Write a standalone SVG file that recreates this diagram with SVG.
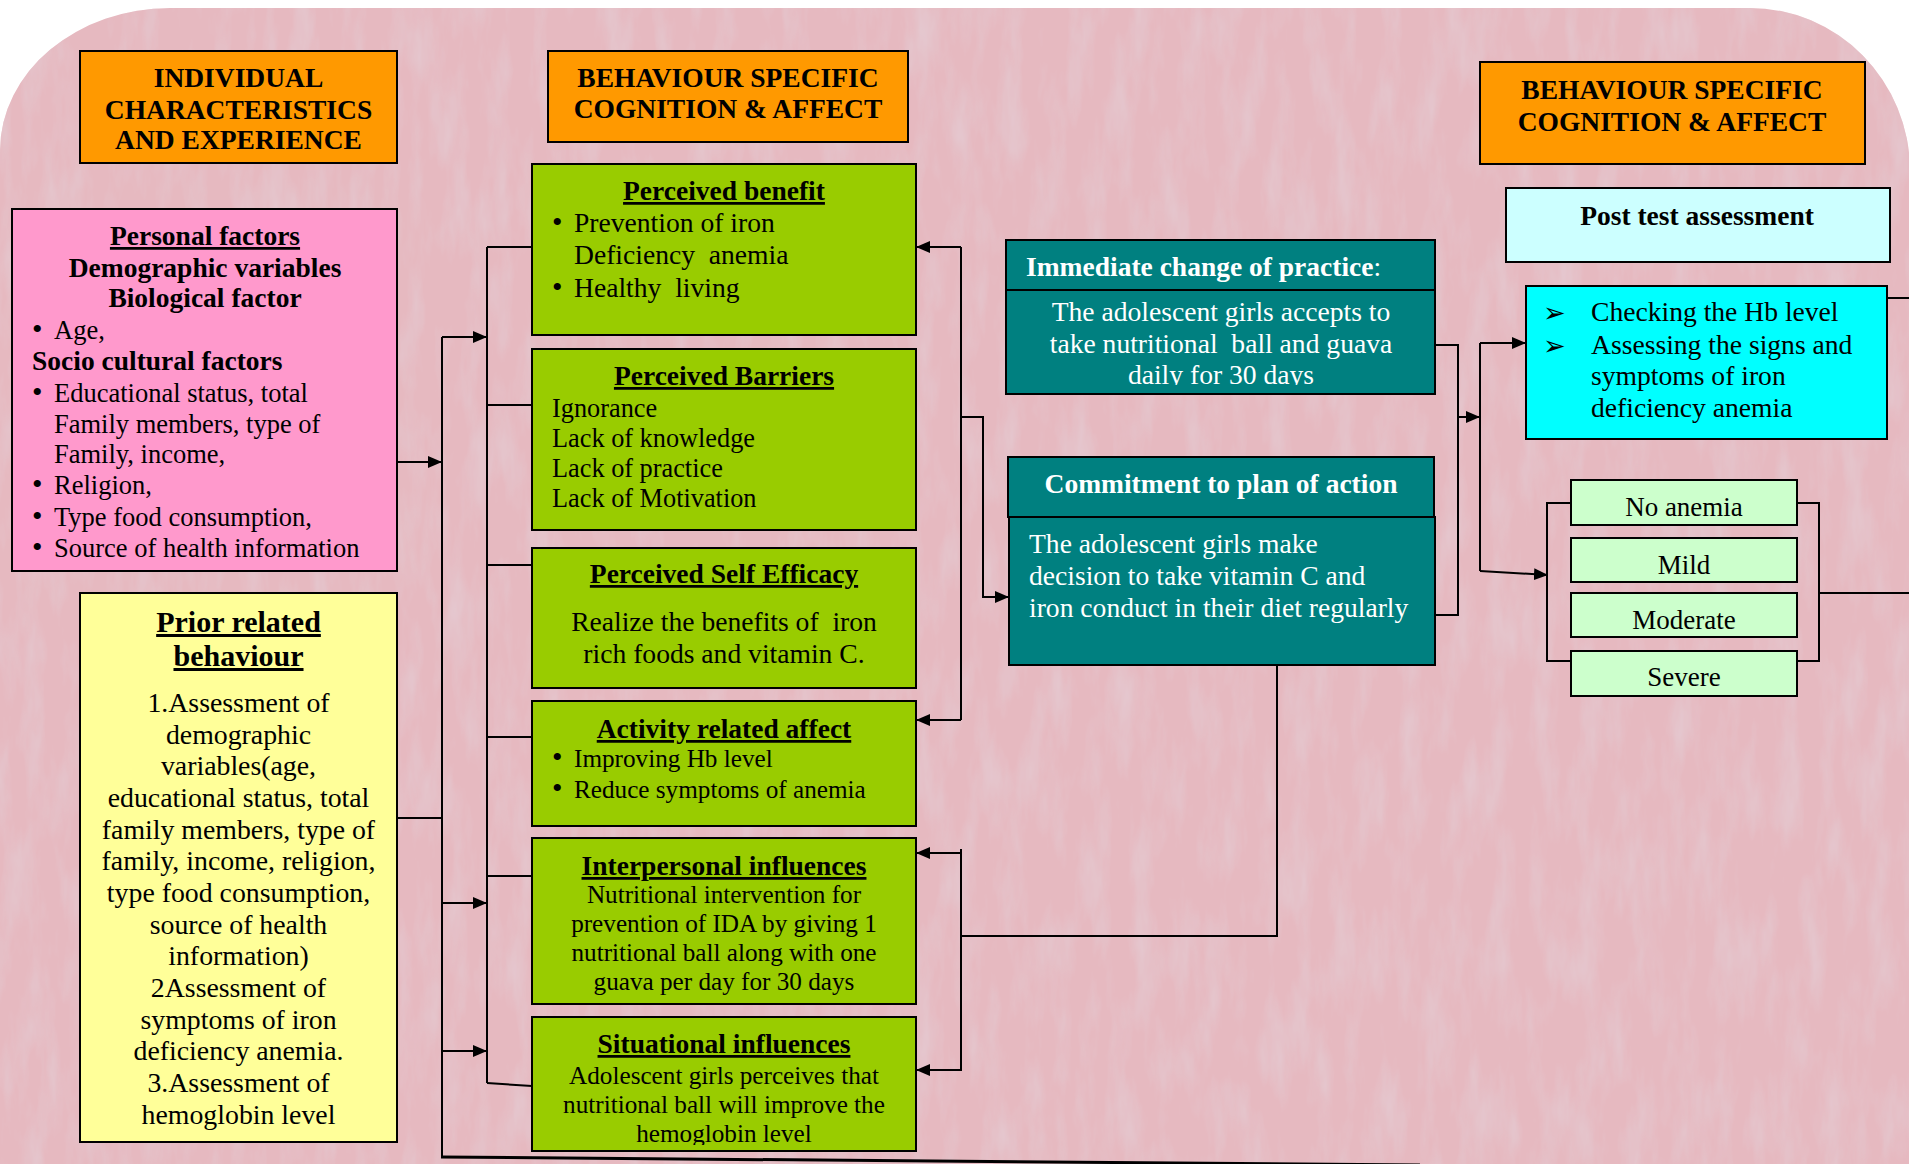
<svg xmlns="http://www.w3.org/2000/svg" width="1909" height="1164" viewBox="0 0 1909 1164">
<style>
text{font-family:"Liberation Serif","Times New Roman",serif;font-size:27px;fill:#000}
.b{font-weight:bold;font-size:27.5px}
.u{text-decoration:underline}
.c{text-anchor:middle}
.w{fill:#fff}
.pre{white-space:pre}
.box{stroke:#000;stroke-width:2}
.ln{fill:none;stroke:#000;stroke-width:2}
.arr{fill:none;stroke:#000;stroke-width:2;marker-end:url(#ah)}
.f265 text{font-size:26.5px}
.f276 text{font-size:27.6px}
.f263 text{font-size:26.3px}
.f252 text{font-size:25.2px}
.f265 text.b,.f276 text.b,.f263 text.b,.f252 text.b{font-size:27.5px}
.ar{font-family:"DejaVu Sans",sans-serif;font-size:27px}
</style>
<defs>
<marker id="ah" viewBox="0 0 14 12" refX="14" refY="6" markerWidth="14" markerHeight="12" markerUnits="userSpaceOnUse" orient="auto"><path d="M0,0 L14,6 L0,12 z" fill="#000"/></marker>
<filter id="tex" x="0" y="0" width="1" height="1">
<feTurbulence type="fractalNoise" baseFrequency="0.045 0.012" numOctaves="4" seed="7" result="n"/>
<feColorMatrix in="n" type="matrix" values="0 0 0 0 0.78  0 0 0 0 0.58  0 0 0 0 0.63  0 0 0 1.8 -0.75" result="c"/>
<feComposite in="c" in2="SourceAlpha" operator="in"/>
</filter>
<clipPath id="clipSit"><rect x="532" y="1017" width="384" height="128"/></clipPath>
<clipPath id="clipT1"><rect x="1006" y="290" width="429" height="95"/></clipPath>
</defs>

<g id="background">
<rect width="1909" height="1164" fill="#fff"/>
<path d="M0,150 A170,143 0 0 1 170,8 L1750,8 A160,163 0 0 1 1910,170 L1910,1164 L0,1164 Z" fill="#e6b9c0"/>
<path d="M0,150 A170,143 0 0 1 170,8 L1750,8 A160,163 0 0 1 1910,170 L1910,1164 L0,1164 Z" fill="#e6b9c0" filter="url(#tex)"/>
</g>

<g id="connectors">
<path class="arr" d="M397,462 H442"/>
<path class="ln" d="M397,818 H442"/>
<path class="ln" d="M442,337 V1157"/>
<path d="M441,1157 L1420,1165" fill="none" stroke="#000" stroke-width="3"/>
<path class="arr" d="M442,337 H487"/>
<path class="arr" d="M442,903 H487"/>
<path class="arr" d="M442,1051 H487"/>
<path class="ln" d="M487,247 V1083"/>
<path class="ln" d="M487,247 H532 M487,405 H532 M487,565 H532 M487,737 H532 M487,876 H532 M487,1083 L532,1086"/>
<path class="ln" d="M961,247 V720"/>
<path class="arr" d="M961,247 H916"/>
<path class="arr" d="M961,720 H916"/>
<path class="arr" d="M961,417 H983 V597 H1009"/>
<path class="ln" d="M961,849 V1071"/>
<path class="arr" d="M961,853 H916"/>
<path class="arr" d="M961,1070 H916"/>
<path class="ln" d="M961,936 H1277 V665"/>
<path class="ln" d="M1435,345 H1458 V615 H1435"/>
<path class="arr" d="M1458,417 H1480"/>
<path class="ln" d="M1480,343 V571"/>
<path class="arr" d="M1480,343 H1526"/>
<path class="arr" d="M1480,571 L1548,575"/>
<path class="ln" d="M1571,503 H1547 V661 H1571"/>
<path class="ln" d="M1797,503 H1819 V661 H1797"/>
<path class="ln" d="M1819,593 H1909"/>
<path class="ln" d="M1887,298 H1909"/>
</g>

<g id="hdr-individual">
<rect class="box" x="80" y="51" width="317" height="112" fill="#ff9900"/>
<text class="b c" x="238.5" y="87">INDIVIDUAL</text>
<text class="b c" x="238.5" y="119">CHARACTERISTICS</text>
<text class="b c" x="238.5" y="149">AND EXPERIENCE</text>
</g>

<g id="hdr-behaviour1">
<rect class="box" x="548" y="51" width="360" height="91" fill="#ff9900"/>
<text class="b c" x="728" y="87">BEHAVIOUR SPECIFIC</text>
<text class="b c" x="728" y="118">COGNITION &amp; AFFECT</text>
</g>

<g id="hdr-behaviour2">
<rect class="box" x="1480" y="62" width="385" height="102" fill="#ff9900"/>
<text class="b c" x="1672" y="99">BEHAVIOUR SPECIFIC</text>
<text class="b c" x="1672" y="131">COGNITION &amp; AFFECT</text>
</g>

<g id="personal-factors" class="f265">
<rect class="box" x="12" y="209" width="385" height="362" fill="#ff99cc"/>
<text class="b c u" x="205" y="245">Personal factors</text>
<text class="b c" x="205" y="277">Demographic variables</text>
<text class="b c" x="205" y="307">Biological factor</text>
<text x="32" y="339" style="font-size:30px">•</text><text x="54" y="339">Age,</text>
<text class="b" x="32" y="370">Socio cultural factors</text>
<text x="32" y="402" style="font-size:30px">•</text><text x="54" y="402">Educational status, total</text>
<text x="54" y="433">Family members, type of</text>
<text x="54" y="463">Family, income,</text>
<text x="32" y="494" style="font-size:30px">•</text><text x="54" y="494">Religion,</text>
<text x="32" y="526" style="font-size:30px">•</text><text x="54" y="526">Type food consumption,</text>
<text x="32" y="557" style="font-size:30px">•</text><text x="54" y="557">Source of health information</text>
</g>

<g id="prior-behaviour">
<rect class="box" x="80" y="593" width="317" height="549" fill="#ffff99"/>
<text class="b c u" x="238.5" y="632" style="font-size:30px">Prior related</text>
<text class="b c u" x="238.5" y="666" style="font-size:30px">behaviour</text>
<g style="font-size:27.8px">
<text class="c" x="238.5" y="712" style="font-size:27.8px">1.Assessment of</text>
<text class="c" x="238.5" y="744" style="font-size:27.8px">demographic</text>
<text class="c" x="238.5" y="775" style="font-size:27.8px">variables(age,</text>
<text class="c" x="238.5" y="807" style="font-size:27.8px">educational status, total</text>
<text class="c" x="238.5" y="839" style="font-size:27.8px">family members, type of</text>
<text class="c" x="238.5" y="870" style="font-size:27.8px">family, income, religion,</text>
<text class="c" x="238.5" y="902" style="font-size:27.8px">type food consumption,</text>
<text class="c" x="238.5" y="934" style="font-size:27.8px">source of health</text>
<text class="c" x="238.5" y="965" style="font-size:27.8px">information)</text>
<text class="c" x="238.5" y="997" style="font-size:27.8px">2Assessment of</text>
<text class="c" x="238.5" y="1029" style="font-size:27.8px">symptoms of iron</text>
<text class="c" x="238.5" y="1060" style="font-size:27.8px">deficiency anemia.</text>
<text class="c" x="238.5" y="1092" style="font-size:27.8px">3.Assessment of</text>
<text class="c" x="238.5" y="1124" style="font-size:27.8px">hemoglobin level</text>
</g>
</g>

<g id="perceived-benefit" class="f276">
<rect class="box" x="532" y="164" width="384" height="171" fill="#99cc00"/>
<text class="b c u" x="724" y="200">Perceived benefit</text>
<text x="552" y="232" style="font-size:30px">•</text><text x="574" y="232">Prevention of iron</text>
<text class="pre" x="574" y="264">Deficiency  anemia</text>
<text x="552" y="297" style="font-size:30px">•</text><text class="pre" x="574" y="297">Healthy  living</text>
</g>

<g id="perceived-barriers" class="f263">
<rect class="box" x="532" y="349" width="384" height="181" fill="#99cc00"/>
<text class="b c u" x="724" y="385">Perceived Barriers</text>
<text x="552" y="417">Ignorance</text>
<text x="552" y="447">Lack of knowledge</text>
<text x="552" y="477">Lack of practice</text>
<text x="552" y="507">Lack of Motivation</text>
</g>

<g id="self-efficacy" class="f276">
<rect class="box" x="532" y="548" width="384" height="140" fill="#99cc00"/>
<text class="b c u" x="724" y="583">Perceived Self Efficacy</text>
<text class="c pre" x="724" y="631">Realize the benefits of  iron</text>
<text class="c" x="724" y="663">rich foods and vitamin C.</text>
</g>

<g id="activity-affect" class="f252">
<rect class="box" x="532" y="701" width="384" height="125" fill="#99cc00"/>
<text class="b c u" x="724" y="738">Activity related affect</text>
<text x="552" y="767" style="font-size:30px">•</text><text x="574" y="767">Improving Hb level</text>
<text x="552" y="798" style="font-size:30px">•</text><text x="574" y="798">Reduce symptoms of anemia</text>
</g>

<g id="interpersonal" class="f252">
<rect class="box" x="532" y="838" width="384" height="166" fill="#99cc00"/>
<text class="b c u" x="724" y="875">Interpersonal influences</text>
<text class="c" x="724" y="903">Nutritional intervention for</text>
<text class="c" x="724" y="932">prevention of IDA by giving 1</text>
<text class="c" x="724" y="961">nutritional ball along with one</text>
<text class="c" x="724" y="990">guava per day for 30 days</text>
</g>

<g id="situational" class="f252">
<rect class="box" x="532" y="1017" width="384" height="134" fill="#99cc00"/>
<text class="b c u" x="724" y="1053">Situational influences</text>
<text class="c" x="724" y="1084">Adolescent girls perceives that</text>
<text class="c" x="724" y="1113">nutritional ball will improve the</text>
<text class="c" x="724" y="1142" clip-path="url(#clipSit)">hemoglobin level</text>
</g>

<g id="immediate-change" class="f276">
<rect class="box" x="1006" y="240" width="429" height="50" fill="#008080"/>
<rect class="box" x="1006" y="290" width="429" height="104" fill="#008080"/>
<text class="b w" x="1026" y="276">Immediate change of practice<tspan style="font-weight:normal">:</tspan></text>
<text class="c w" x="1221" y="321">The adolescent girls accepts to</text>
<text class="c w pre" x="1221" y="353">take nutritional  ball and guava</text>
<text class="c w" x="1221" y="384" clip-path="url(#clipT1)">daily for 30 days</text>
</g>

<g id="commitment" class="f276">
<rect class="box" x="1008" y="457" width="426" height="60" fill="#008080"/>
<rect class="box" x="1009" y="517" width="426" height="148" fill="#008080"/>
<text class="b c w" x="1221" y="493">Commitment to plan of action</text>
<text class="w" x="1029" y="553">The adolescent girls make</text>
<text class="w" x="1029" y="585">decision to take vitamin C and</text>
<text class="w" x="1029" y="617">iron conduct in their diet regularly</text>
</g>

<g id="post-test">
<rect class="box" x="1506" y="188" width="384" height="74" fill="#ccffff"/>
<text class="b c" x="1697" y="225">Post test assessment</text>
</g>

<g id="assessment" class="f276">
<rect class="box" x="1526" y="286" width="361" height="153" fill="#00ffff"/>
<text class="ar" x="1543" y="322" style="font-size:27px;font-family:'DejaVu Sans',sans-serif">➢</text>
<text x="1591" y="321">Checking the Hb level</text>
<text class="ar" x="1543" y="355" style="font-size:27px;font-family:'DejaVu Sans',sans-serif">➢</text>
<text x="1591" y="354">Assessing the signs and</text>
<text x="1591" y="385">symptoms of iron</text>
<text x="1591" y="417">deficiency anemia</text>
</g>

<g id="no-anemia">
<rect class="box" x="1571" y="480" width="226" height="45" fill="#ccffcc"/>
<text class="c" x="1684" y="516">No anemia</text>
</g>
<g id="mild">
<rect class="box" x="1571" y="538" width="226" height="44" fill="#ccffcc"/>
<text class="c" x="1684" y="574">Mild</text>
</g>
<g id="moderate">
<rect class="box" x="1571" y="593" width="226" height="44" fill="#ccffcc"/>
<text class="c" x="1684" y="629">Moderate</text>
</g>
<g id="severe">
<rect class="box" x="1571" y="651" width="226" height="45" fill="#ccffcc"/>
<text class="c" x="1684" y="686">Severe</text>
</g>
</svg>
